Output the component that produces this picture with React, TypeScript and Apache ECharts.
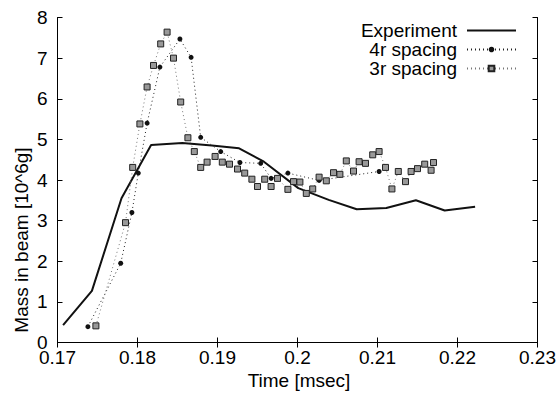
import React, { useEffect, useRef } from "react";
import * as echarts from "echarts";

// Experiment (solid line)
const expX = [0.1707, 0.1743, 0.178, 0.1817, 0.1856, 0.1893, 0.1927, 0.1958, 0.2001, 0.2039, 0.2074, 0.2111, 0.2148, 0.2184, 0.2222];
const expY = [0.43, 1.27, 3.55, 4.86, 4.91, 4.85, 4.78, 4.45, 3.8, 3.51, 3.28, 3.31, 3.5, 3.25, 3.34];

// 4r spacing (dotted, dots)
const r4X = [0.1738, 0.1779, 0.1793, 0.1801, 0.1812, 0.1828, 0.1853, 0.1867, 0.1879, 0.1904, 0.1928, 0.1954, 0.1967, 0.1988, 0.2027, 0.2102];
const r4Y = [0.39, 1.95, 3.2, 4.17, 5.4, 6.78, 7.47, 7.02, 5.05, 4.7, 4.43, 4.41, 4.04, 4.17, 3.99, 4.21];

// 3r spacing (dotted, squares)
const r3X = [0.1748, 0.1785, 0.1794, 0.1803, 0.1812, 0.182, 0.1829, 0.1837, 0.1845, 0.1854, 0.1863, 0.1871, 0.1879, 0.1887, 0.1897, 0.1906, 0.1915, 0.1925, 0.1934, 0.1943, 0.195, 0.1959, 0.1967, 0.1975, 0.1988, 0.1995, 0.2003, 0.2011, 0.2019, 0.2027, 0.2036, 0.2045, 0.2053, 0.2061, 0.207, 0.2077, 0.2085, 0.2094, 0.2102, 0.211, 0.2118, 0.2126, 0.2135, 0.2142, 0.215, 0.2159, 0.2167, 0.217];
const r3Y = [0.41, 2.95, 4.31, 5.38, 6.29, 6.82, 7.35, 7.64, 7.0, 5.92, 5.04, 4.7, 4.31, 4.44, 4.58, 4.44, 4.39, 4.27, 4.17, 4.02, 3.84, 4.02, 3.84, 4.04, 3.77, 3.96, 3.95, 3.67, 3.78, 4.07, 3.98, 4.18, 4.14, 4.47, 4.22, 4.45, 4.41, 4.62, 4.7, 4.31, 3.78, 4.21, 3.96, 4.21, 4.28, 4.39, 4.24, 4.43];

const seriesNames = ["Experiment", "4r spacing", "3r spacing"];
const xTitle = "Time [msec]";
const yTitle = "Mass in beam [10^6g]";

const FONT = "'Liberation Sans', Arial, Helvetica, sans-serif";

const zip = (xs: number[], ys: number[]) => xs.map((x, i) => [x, ys[i]]);

export default function App() {
  const ref = useRef<HTMLDivElement>(null);
  useEffect(() => {
    if (!ref.current) return;
    const chart = echarts.init(ref.current, undefined, { renderer: "svg" });
    const axisCommon = {
      axisLine: { show: true, lineStyle: { color: "#000", width: 1 } },
      axisTick: { show: true, inside: true, length: 5, lineStyle: { color: "#000" } },
      splitLine: { show: false },
    };
    const xFmt = (v: number) => String(Number(v.toFixed(2)));
    chart.setOption({
      animation: false,
      backgroundColor: "#fff",
      textStyle: { fontFamily: FONT, fontWeight: "normal" },
      grid: { left: 57.5, right: 19, top: 17.5, bottom: 56.5, containLabel: false },
      xAxis: [
        {
          type: "value", min: 0.17, max: 0.23, interval: 0.01, position: "bottom",
          ...axisCommon,
          axisLabel: { color: "#000", fontSize: 19, fontFamily: FONT, fontWeight: "normal", margin: 7.5, lineHeight: 14, formatter: xFmt },
        },
        {
          type: "value", min: 0.17, max: 0.23, interval: 0.01, position: "top",
          ...axisCommon,
          axisLabel: { show: false },
        },
      ],
      yAxis: [
        {
          type: "value", min: 0, max: 8, interval: 1, position: "left",
          ...axisCommon,
          axisLabel: { color: "#000", fontSize: 19, fontFamily: FONT, fontWeight: "normal", margin: 10, lineHeight: 12 },
        },
        {
          type: "value", min: 0, max: 8, interval: 1, position: "right",
          ...axisCommon,
          axisLabel: { show: false },
        },
      ],
      legend: {
        data: [
          { name: seriesNames[0], itemStyle: { opacity: 0 } },
          { name: seriesNames[1] },
          { name: seriesNames[2] },
        ],
        orient: "vertical",
        align: "right",
        right: 42,
        top: 21,
        padding: 0,
        itemWidth: 49,
        itemHeight: 7,
        itemGap: 0,
        textStyle: { color: "#000", fontSize: 19, fontFamily: FONT, fontWeight: "normal", lineHeight: 19, padding: [0, 5, 0, 0] },
      },
      graphic: [
        {
          type: "text", x: 21, y: 240, rotation: Math.PI / 2,
          style: { text: yTitle, fontSize: 19, fontFamily: FONT, fontWeight: "normal", fill: "#000", align: "center", verticalAlign: "middle" },
        },
        {
          type: "text", x: 299, y: 380,
          style: { text: xTitle, fontSize: 19, fontFamily: FONT, fontWeight: "normal", fill: "#000", align: "center", verticalAlign: "middle" },
        },
      ],
      series: [
        {
          name: seriesNames[0], type: "line", data: zip(expX, expY), symbol: "none",
          lineStyle: { color: "#111", width: 2 }, itemStyle: { color: "#111" }, z: 3,
        },
        {
          name: seriesNames[1], type: "line", data: zip(r4X, r4Y), symbol: "circle", symbolSize: 5,
          lineStyle: { color: "#222", width: 1, type: [1, 3] }, itemStyle: { color: "#111" }, z: 4,
        },
        {
          name: seriesNames[2], type: "line", data: zip(r3X, r3Y), symbol: "rect", symbolSize: 6,
          lineStyle: { color: "#777", width: 1, type: [1, 3] },
          itemStyle: { color: "#999", borderColor: "#222", borderWidth: 1 }, z: 5,
        },
      ],
    });
    return () => chart.dispose();
  }, []);
  return <div ref={ref} style={{ position: "fixed", left: 0, top: 0, width: 559, height: 399 }} />;
}
